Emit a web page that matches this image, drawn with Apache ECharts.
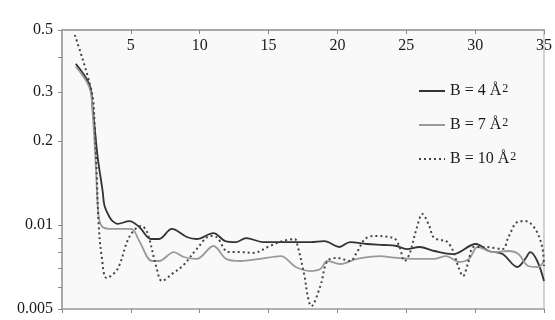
<!DOCTYPE html>
<html>
<head>
<meta charset="utf-8">
<script src="https://cdn.jsdelivr.net/npm/echarts@6/dist/echarts.min.js"></script>
<style>html,body{margin:0;padding:0;background:#fff;}#c{width:555px;height:320px;}</style>
</head>
<body>
<div id="c"></div>
<script>
// ---- data (x in resolution units, y = actual values) ----
const seriesNames = ['B = 4 Å²', 'B = 7 Å²', 'B = 10 Å²'];
const xTicks = [5, 10, 15, 20, 25, 30, 35];
const yTickValues = [0.5, 0.3, 0.2, 0.01, 0.005];
const yTickLabels = ['0.5', '0.3', '0.2', '0.01', '0.005'];
const yMinorTicks = [0.4, 0.009, 0.008, 0.007, 0.006];

const b4 = [
  [1.0,0.378],[2.0,0.318],[2.23,0.262],[2.59,0.113],[2.95,0.0337],[3.09,0.0197],[3.45,0.0133],
  [3.67,0.0115],[4.03,0.0104],[4.89,0.0115],[5.61,0.00984],[6.47,0.00891],[7.05,0.00891],
  [7.98,0.00968],[9.06,0.00906],[9.78,0.00891],[11.0,0.00936],[11.86,0.00876],[12.65,0.00869],
  [13.37,0.00898],[14.59,0.00869],[16.03,0.00869],[18.04,0.00869],[19.05,0.00876],[20.13,0.00834],
  [20.92,0.00869],[22.14,0.00855],[23.36,0.00848],[24.30,0.00841],[25.02,0.00820],[25.95,0.00834],
  [27.03,0.00807],[28.40,0.00787],[30.05,0.00855],[30.98,0.00807],[31.99,0.00787],[33.07,0.00707],
  [33.64,0.00756],[34.0,0.00800],[34.51,0.00743],[35.0,0.00630]
];
const b7 = [
  [1.0,0.37],[2.0,0.31],[2.23,0.25],[2.45,0.09],[2.66,0.0138],[2.95,0.00984],[3.67,0.00968],
  [5.03,0.00968],[5.61,0.00876],[6.54,0.00743],[7.05,0.00743],[8.12,0.00800],[8.84,0.00768],
  [9.78,0.00756],[11.0,0.00841],[11.93,0.00756],[12.94,0.00743],[14.38,0.00756],[15.89,0.00774],
  [16.97,0.00707],[18.04,0.00684],[18.76,0.00695],[19.27,0.00743],[20.20,0.00725],[21.42,0.00756],
  [23.08,0.00774],[24.30,0.00762],[25.74,0.00756],[27.03,0.00756],[27.89,0.00774],[28.83,0.00737],
  [29.55,0.00756],[30.19,0.00834],[31.27,0.00800],[32.42,0.00807],[33.14,0.00787],[33.86,0.00713],
  [34.58,0.00707],[35.0,0.00743]
];
const b10 = [
  [0.93,0.48],[2.16,0.30],[2.37,0.228],[2.52,0.0617],[2.66,0.0104],[2.88,0.00774],[3.24,0.00646],
  [4.03,0.00695],[4.89,0.00906],[5.75,0.00992],[6.18,0.00944],[6.83,0.00713],[7.26,0.00630],
  [7.98,0.00667],[8.84,0.00720],[9.78,0.00820],[10.78,0.00913],[11.21,0.00906],[12.08,0.00800],
  [12.94,0.00800],[13.87,0.00794],[15.10,0.00841],[16.03,0.00876],[16.89,0.00891],[17.11,0.00841],
  [17.61,0.00656],[17.83,0.0056],[18.1,0.00512],[18.76,0.00605],[19.27,0.00743],[19.99,0.00762],
  [20.92,0.00743],[21.42,0.00800],[22.0,0.00891],[22.65,0.00913],[24.08,0.00898],[24.51,0.00834],
  [24.87,0.00743],[25.23,0.00787],[25.74,0.00968],[26.17,0.0148],[26.67,0.00992],[26.96,0.00906],
  [27.39,0.00884],[27.89,0.00876],[28.40,0.00807],[28.76,0.00713],[29.12,0.00656],[29.47,0.00725],
  [29.91,0.00834],[30.77,0.00834],[31.99,0.00820],[32.42,0.00906],[33.07,0.01113],[33.64,0.0115],
  [34.36,0.00968],[34.87,0.00834],[35.0,0.00713]
];

// broken log scale: log above 0.2 and below 0.01, compressed between
const L02 = Math.log10(0.2);
function toY(v) {
  const L = Math.log10(v);
  if (L >= L02) return L;
  if (L <= -2) return L + 1;
  return L02 - (L02 - L) * ((L02 + 1) / (L02 + 2));
}
const tr = arr => arr.map(p => [p[0], toY(p[1])]);

const serif = 'Liberation Serif';
const axisCol = '#a8a8a8';
const txtCol = '#1a1a1a';
const chart = echarts.init(document.getElementById('c'), null, {renderer: 'canvas'});
const yLabelPos = yTickValues.map(toY);
chart.setOption({
  animation: false,
  backgroundColor: '#ffffff',
  grid: {left: 62, top: 30, right: 6, bottom: 11, show: true, backgroundColor: '#f9f9f9',
         borderColor: axisCol, borderWidth: 1},
  legend: {
    orient: 'vertical', left: 413, top: 78, itemWidth: 26, itemHeight: 14, itemGap: 18,
    data: seriesNames,
    itemStyle: {opacity: 0, borderWidth: 0},
    formatter: n => n.replace('²', '{sup|2}'),
    textStyle: {fontFamily: serif, fontSize: 16, color: txtCol,
      rich: {sup: {fontFamily: serif, fontSize: 12, color: txtCol, verticalAlign: 'top', lineHeight: 12, padding: [0,0,0,1]}}}
  },
  xAxis: [
    {type: 'value', position: 'top', min: 0, max: 35, interval: 5,
     axisLine: {show: true, lineStyle: {color: axisCol, width: 2}},
     axisTick: {show: true, inside: true, length: 4, lineStyle: {color: '#888'}},
     axisLabel: {inside: true, margin: 8, showMinLabel: false, fontFamily: serif, fontSize: 16, color: txtCol},
     splitLine: {show: false}},
    {type: 'value', position: 'bottom', min: 0, max: 35, interval: 5,
     axisLine: {show: true, lineStyle: {color: axisCol, width: 1.5}},
     axisTick: {show: true, inside: false, length: 4, lineStyle: {color: '#888'}},
     axisLabel: {show: false}, splitLine: {show: false}}
  ],
  yAxis: {
    type: 'value', min: toY(0.005), max: toY(0.5),
    axisLine: {show: true, lineStyle: {color: axisCol, width: 2}},
    axisTick: {show: true, inside: false, length: 4, lineStyle: {color: '#888'},
               customValues: yTickValues.concat(yMinorTicks).map(toY)},
    axisLabel: {customValues: yLabelPos, margin: 9, fontFamily: serif, fontSize: 16, color: txtCol,
      formatter: v => {
        let best = 0;
        for (let i = 1; i < yLabelPos.length; i++) if (Math.abs(yLabelPos[i] - v) < Math.abs(yLabelPos[best] - v)) best = i;
        return yTickLabels[best];
      }},
    splitLine: {show: false}
  },
  series: [
    {name: seriesNames[0], type: 'line', data: tr(b4), smooth: 0.35, symbol: 'none',
     lineStyle: {color: '#333', width: 1.8}, itemStyle: {color: '#333'}},
    {name: seriesNames[1], type: 'line', data: tr(b7), smooth: 0.35, symbol: 'none',
     lineStyle: {color: '#9a9a9a', width: 1.8}, itemStyle: {color: '#9a9a9a'}},
    {name: seriesNames[2], type: 'line', data: tr(b10), smooth: 0.35, symbol: 'none',
     lineStyle: {color: '#444', width: 2, type: [2, 3]}, itemStyle: {color: '#444'}}
  ]
});
</script>
</body>
</html>
